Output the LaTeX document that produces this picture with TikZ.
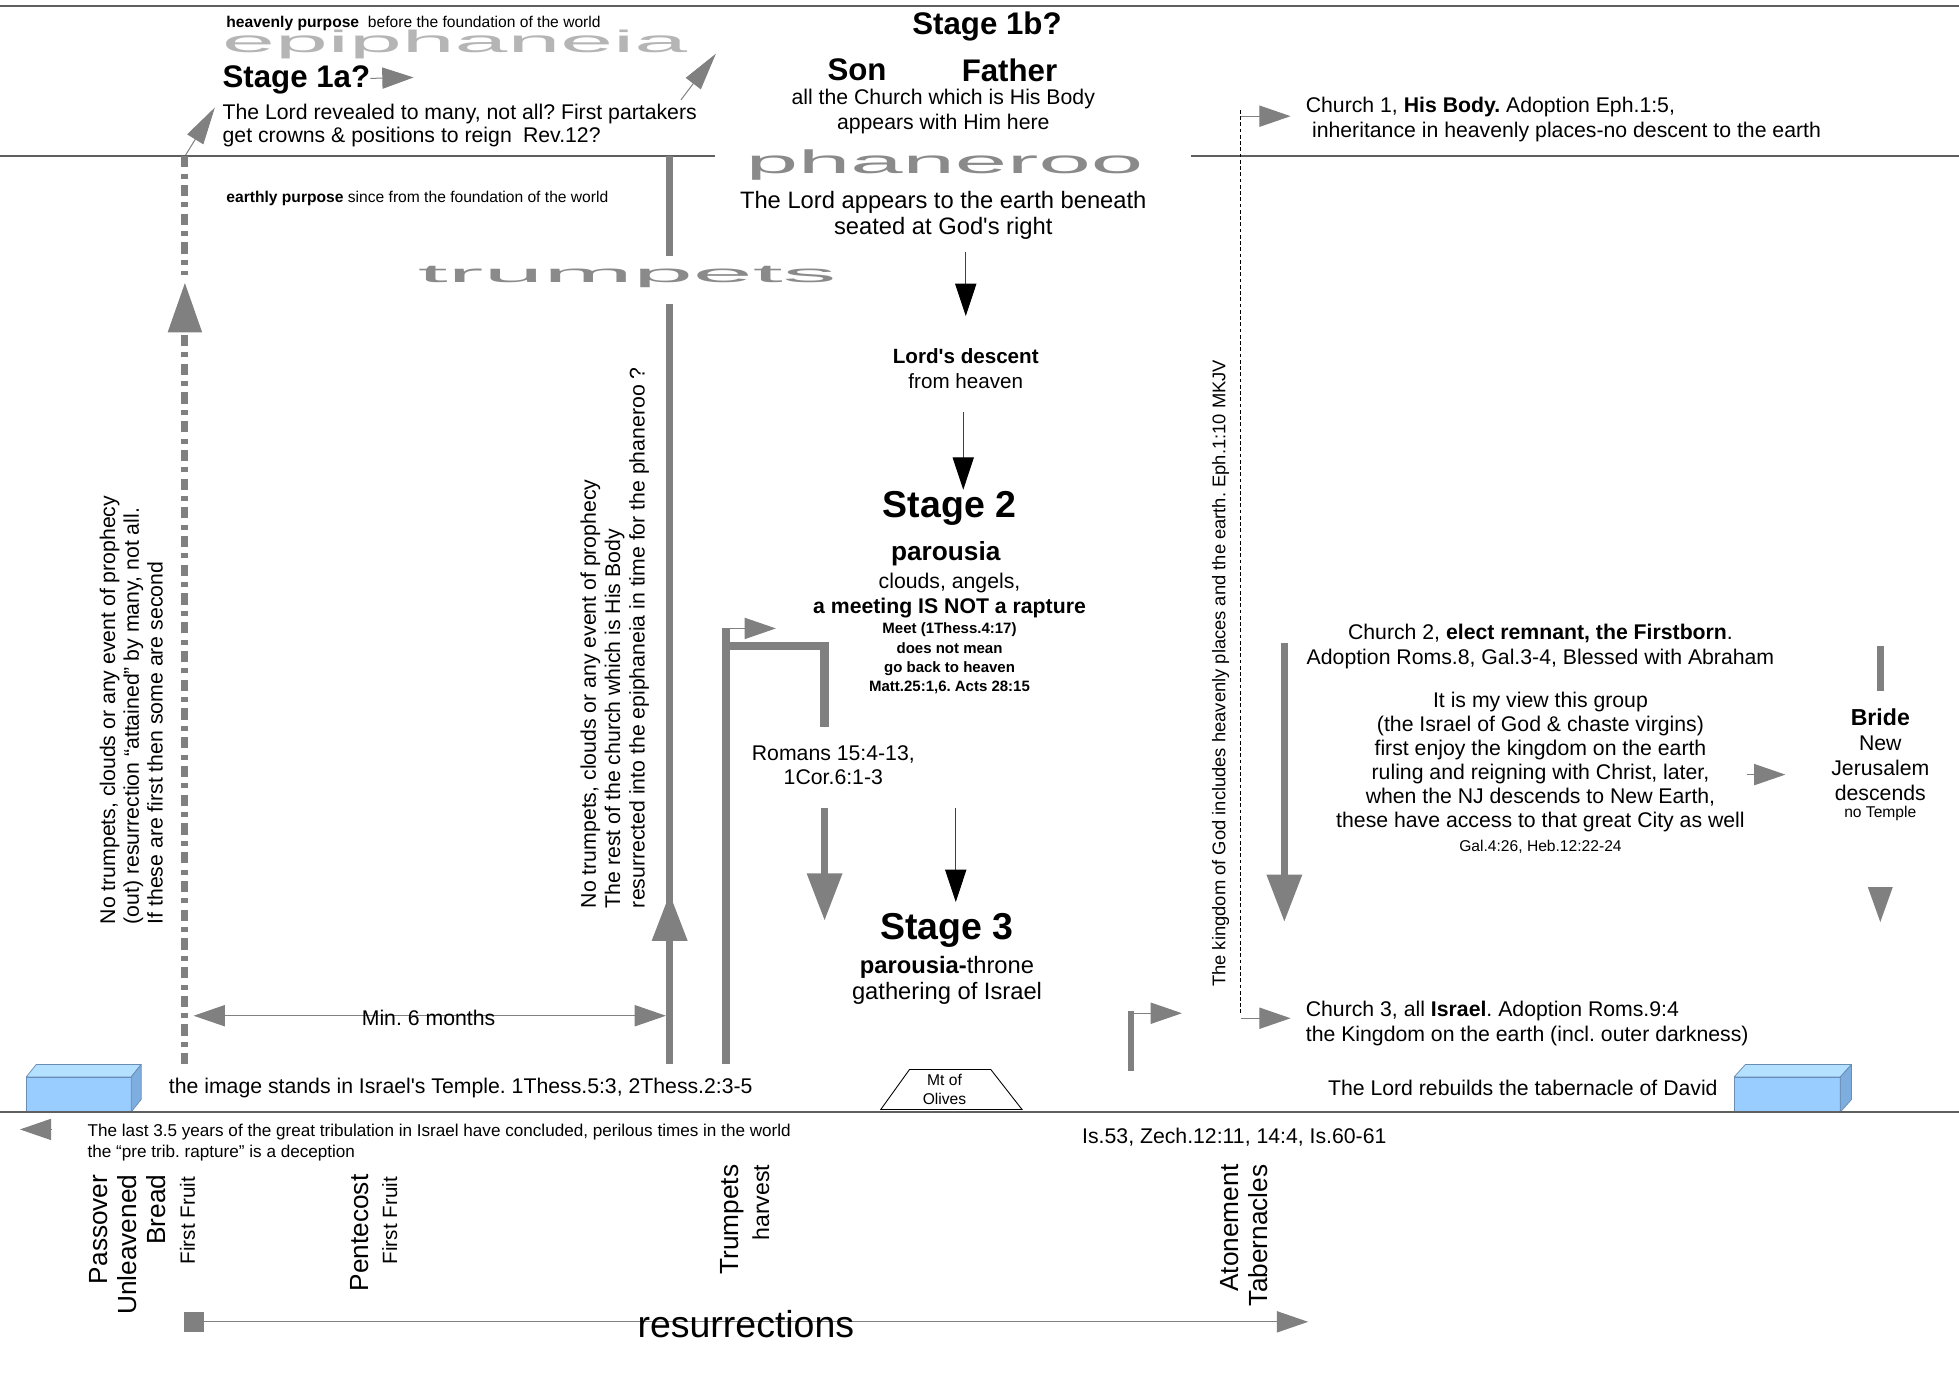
\documentclass[tikz,border=0pt]{standalone}
\usepackage{fontspec}
\setmainfont{Liberation Sans}[Ligatures=TeXOff]
\usepackage{graphicx}
\usepackage{tikz}
\usetikzlibrary{arrows.meta}
\definecolor{arrgray}{HTML}{808080}
\definecolor{rulegray}{HTML}{5F5F5F}
\definecolor{wordgray}{HTML}{8A8A8A}
\definecolor{wordlight}{HTML}{B5B5B5}
\definecolor{boxfront}{HTML}{99CCFF}
\definecolor{boxtop}{HTML}{B4E1FF}
\definecolor{boxside}{HTML}{7EAEE0}
\definecolor{boxedge}{HTML}{6A8DB4}
\frenchspacing

\begin{document}
\begin{tikzpicture}[x=1pt,y=-1pt,
  rule/.style={draw=rulegray,line width=1.2pt},
  txt/.style={inner sep=0pt,align=center,yshift=-2pt},
  word/.style={inner sep=0pt,anchor=base},
  garr/.style={draw=arrgray,line width=0.8pt,-{Triangle[length=25pt,width=17pt]}},
  darr/.style={draw=arrgray,line width=0.8pt,{Triangle[length=25pt,width=17pt]}-{Triangle[length=25pt,width=17pt]}},
  barr/.style={draw=black!75,line width=0.9pt,-{Triangle[length=26pt,width=17pt,color=black]}},
  fat/.style={draw=arrgray,line width=6pt},
  fatarr/.style={fat,-{Triangle[length=38pt,width=27pt]}},
  dline/.style={draw=arrgray,line width=5.5pt,dash pattern=on 9pt off 5pt on 4pt off 5pt},
  vtxt/.style={inner sep=0pt,rotate=90,anchor=west,align=left},
  ftxt/.style={inner sep=0pt,rotate=90,anchor=east,align=right},
  tbox/.style={draw=boxedge,line width=0.6pt,line join=round}]
\newcommand{\fsz}[2]{\fontsize{#1}{#2}\selectfont}
\useasboundingbox (0,0) rectangle (1568,1107);

% heaven
\draw[rule] (0,5) -- (1568,5);
\node[txt,anchor=west,font=\fsz{12.5}{15}] (hp) at (181,17) {\textbf{heavenly purpose}\hspace{7pt}before the foundation of the world};
\node[word,text=wordlight] (epi) at (364,42) {\resizebox{372pt}{18pt}{epiphaneia}};
\node[txt,anchor=west,font=\fsz{25}{28}\bfseries] (st1a) at (178,62) {Stage 1a?};
\coordinate (st1aend) at (331,62);
\draw[garr] (st1a) -- (st1aend);
\node[txt,anchor=west,align=left,font=\fsz{17}{19}] (rev) at (178,98.5) {The Lord revealed to many, not all? First partakers\\get crowns \& positions to reign\hspace{9pt}Rev.12?};
\coordinate (dtop) at (148,125);
\coordinate (revtip) at (172,86);
\draw[garr,-{Triangle[length=30pt,width=15pt]}] (dtop) -- (revtip);
\coordinate (revend) at (545,80);
\coordinate (epitip) at (573,43);
\draw[garr,-{Triangle[length=30pt,width=15pt]}] (revend) -- (epitip);

\node[txt,font=\fsz{25}{28}\bfseries] (st1b) at (790,19) {Stage 1b?};
\node[txt,font=\fsz{25}{28}\bfseries] (son) at (686,54) {Son};
\node[txt,font=\fsz{25}{28}\bfseries] (father) at (808,54) {Father};
\node[txt,font=\fsz{17}{20}] (body) at (755,87) {all the Church which is His Body\\appears with Him here};

% phaneroo
\draw[rule] (0,125) -- (572,125);
\draw[rule] (953,125) -- (1568,125);
\node[word,text=wordgray] (phan) at (756,139) {\resizebox{318pt}{19pt}{phaneroo}};
\node[txt,font=\fsz{19}{21}] (lapp) at (755,170.5) {The Lord appears to the earth beneath\\seated at God's right};
\coordinate (a1s) at (773,202);
\coordinate (a1e) at (773,253);
\draw[barr] (a1s) -- (a1e);
\node[txt,font=\fsz{16.5}{20}] (desc) at (773,293) {\textbf{Lord's descent}\\from heaven};
\coordinate (a2s) at (771,330);
\coordinate (a2e) at (771,392);
\draw[barr] (a2s) -- (a2e);
\node[txt,font=\fsz{30}{34}\bfseries] (st2) at (760,405) {Stage 2};
\node[txt,font=\fsz{21}{24}\bfseries] (par) at (757,441) {parousia};
\node[txt,font=\fsz{17}{20}] (meet) at (760,475) {clouds, angels,\\\textbf{a meeting IS NOT a rapture}};
\node[txt,font=\fsz{12}{15.5}\bfseries] (meetsm) at (760,525) {Meet (1Thess.4:17)\\does not mean\\go back to heaven\\Matt.25:1,6. Acts 28:15};
\coordinate (a3s) at (765,647);
\coordinate (a3e) at (765,722);
\draw[barr] (a3s) -- (a3e);
\node[txt,font=\fsz{30}{34}\bfseries] (st3) at (758,743) {Stage 3};
\node[txt,font=\fsz{19}{21}] (thr) at (758,782.5) {\textbf{parousia-}throne\\gathering of Israel};

% churches
\coordinate (kt) at (993,88);
\coordinate (kb) at (993,812);
\draw[black,line width=0.6pt,dash pattern=on 3pt off 2pt] (kt) -- (kb);
\coordinate (c1s) at (993,93);
\coordinate (c1e) at (1033,93);
\draw[garr] (c1s) -- (c1e);
\node[txt,anchor=west,align=left,font=\fsz{17}{20}] (ch1) at (1045,94) {Church 1, \textbf{His Body.} Adoption Eph.1:5,\\\hspace*{5pt}inheritance in heavenly places-no descent to the earth};
\node[vtxt,font=\fsz{14.7}{18}] (king) at (977,790) {The kingdom of God includes heavenly places and the earth. Eph.1:10 MKJV};
\coordinate (c3s) at (993,815);
\coordinate (c3e) at (1033,815);
\draw[garr] (c3s) -- (c3e);
\node[txt,anchor=west,align=left,font=\fsz{17}{20}] (ch3) at (1045,817) {Church 3, all \textbf{Israel}. Adoption Roms.9:4\\the Kingdom on the earth (incl. outer darkness)};
\coordinate (pbot) at (905,857);
\coordinate (ptop) at (905,809);
\coordinate (pend) at (946,811);
\draw[fat,line width=5pt] (pbot) -- (ptop);
\draw[garr] (905,811) -- (pend);

\node[txt,font=\fsz{17}{19.5}] (ch2) at (1233,515.5) {Church 2, \textbf{elect remnant, the Firstborn}.\\Adoption Roms.8, Gal.3-4, Blessed with Abraham};
\node[txt,font=\fsz{17}{19.2}] (view) at (1233,608) {It is my view this group\\(the Israel of God \& chaste virgins)\\first enjoy the kingdom on the earth\\ruling and reigning with Christ, later,\\when the NJ descends to New Earth,\\these have access to that great City as well};
\node[txt,font=\fsz{12.5}{15}] (gal) at (1233,676) {Gal.4:26, Heb.12:22-24};
\coordinate (c2s) at (1028,515);
\coordinate (c2e) at (1028,738);
\draw[fatarr] (c2s) -- (c2e);
\coordinate (vs) at (1398,620);
\coordinate (ve) at (1429,620);
\draw[garr] (vs) -- (ve);
\node[txt,font=\fsz{17}{20}] (bride) at (1505,602) {{\fsz{18.5}{20}\bfseries Bride}\\New\\Jerusalem\\descends};
\node[txt,font=\fsz{12.5}{15}] (notemple) at (1505,649) {no Temple};
\coordinate (bt) at (1505,517);
\coordinate (bb) at (1505,553);
\draw[fat] (bt) -- (bb);
\fill[arrgray] (1495,710) -- (1515,710) -- (1505,738) -- cycle;

% earthly side
\coordinate (dhead) at (148,226);
\coordinate (dbot) at (148,852);
\coordinate (dmid) at (148,220);
\draw[dline] (dtop) -- (dmid);
\draw[dline,-{Triangle[length=40pt,width=26pt]}] (dbot) -- (dhead);
\node[vtxt,font=\fsz{17}{19}] (ltxt) at (105,740) {No trumpets, clouds or any event of prophecy\\(out) resurrection “attained” by many, not all.\\If these are first then some are second};
\node[txt,anchor=west,font=\fsz{12.5}{15}] (ep) at (181,157) {\textbf{earthly purpose} since from the foundation of the world};
\node[word,text=wordgray] (trum) at (502,226) {\resizebox{335pt}{13pt}{trumpets}};
\coordinate (t1) at (536,125);
\coordinate (t2) at (536,205);
\coordinate (t3) at (536,243);
\coordinate (t4) at (536,852);
\coordinate (t5) at (536,715);
\draw[fat] (t1) -- (t2);
\draw[fat] (t3) -- (t4);
\draw[fatarr] (t4) -- (t5);
\node[vtxt,font=\fsz{17}{19.5}] (mtxt) at (492,727) {No trumpets, clouds or any event of prophecy\\The rest of the church which is His Body\\resurrected into the epiphaneia in time for the phaneroo ?};
\coordinate (m6l) at (155,813);
\coordinate (m6r) at (533,813);
\draw[darr] (m6l) -- (m6r);
\node[txt,font=\fsz{17}{20}] (min6) at (343,813) {Min. 6 months};
\coordinate (r1) at (581,852);
\coordinate (r2) at (581,503);
\coordinate (r3) at (621,503);
\draw[fat] (r1) -- (r2);
\draw[garr] (r2) -- (r3);
\draw[fat,line width=7pt] (581,517) -- (660,517) -- (660,582);
\node[txt,font=\fsz{17}{19}] (rom) at (667,610.5) {Romans 15:4-13,\\1Cor.6:1-3};
\coordinate (r4) at (660,647);
\coordinate (r5) at (660,737);
\draw[fatarr] (r4) -- (r5);

% earth
\draw[tbox,fill=boxfront] (21,862) rectangle (105,890);
\draw[tbox,fill=boxtop] (21,862) -- (29,852) -- (113,852) -- (105,862) -- cycle;
\draw[tbox,fill=boxside] (105,862) -- (113,852) -- (113,880) -- (105,890) -- cycle;
\node[txt,anchor=west,font=\fsz{17}{20}] (img) at (135,869) {the image stands in Israel's Temple. 1Thess.5:3, 2Thess.2:3-5};
\draw[black,line width=0.7pt,fill=white] (705,888) -- (818,888) -- (793,856) -- (728,856) -- cycle;
\node[txt,font=\fsz{12.5}{15}] (mt) at (756,870) {Mt of\\Olives};
\node[txt,anchor=east,font=\fsz{17}{20}] (reb) at (1375,869) {The Lord rebuilds the tabernacle of David};
\draw[tbox,fill=boxfront] (1388,862) rectangle (1473,890);
\draw[tbox,fill=boxtop] (1388,862) -- (1397,852) -- (1482,852) -- (1473,862) -- cycle;
\draw[tbox,fill=boxside] (1473,862) -- (1482,852) -- (1482,880) -- (1473,890) -- cycle;
\draw[rule] (0,890) -- (1568,890);

\coordinate (ls) at (42,904);
\coordinate (le) at (16,904);
\draw[garr] (ls) -- (le);
\node[txt,anchor=west,align=left,font=\fsz{13.7}{17}] (last) at (70,912.5) {The last 3.5 years of the great tribulation in Israel have concluded, perilous times in the world\\the “pre trib. rapture” is a deception};
\node[txt,anchor=west,font=\fsz{17}{20}] (is53) at (866,908) {Is.53, Zech.12:11, 14:4, Is.60-61};

% feasts
\node[ftxt,font=\fsz{21}{23}] (pass) at (102,940) {Passover\\Unleavened\\Bread};
\node[ftxt,font=\fsz{16.5}{19}] (ff1) at (150,942) {First Fruit};
\node[ftxt,font=\fsz{21}{23}] (pent) at (288,940) {Pentecost};
\node[ftxt,font=\fsz{16.5}{19}] (ff2) at (312,942) {First Fruit};
\node[ftxt,font=\fsz{21}{23}] (trp) at (586,932) {Trumpets};
\node[ftxt,font=\fsz{18.5}{21}] (harv) at (609,932) {harvest};
\node[ftxt,font=\fsz{21}{23}] (aton) at (995.5,932) {Atonement\\Tabernacles};

\node[fill=arrgray,minimum size=16pt,inner sep=0pt] (rsq) at (155,1058) {};
\coordinate (rend) at (1047,1058);
\draw[garr] (rsq) -- (rend);
\node[txt,font=\fsz{30}{34}] (res) at (597,1058) {resurrections};
\end{tikzpicture}
\end{document}
